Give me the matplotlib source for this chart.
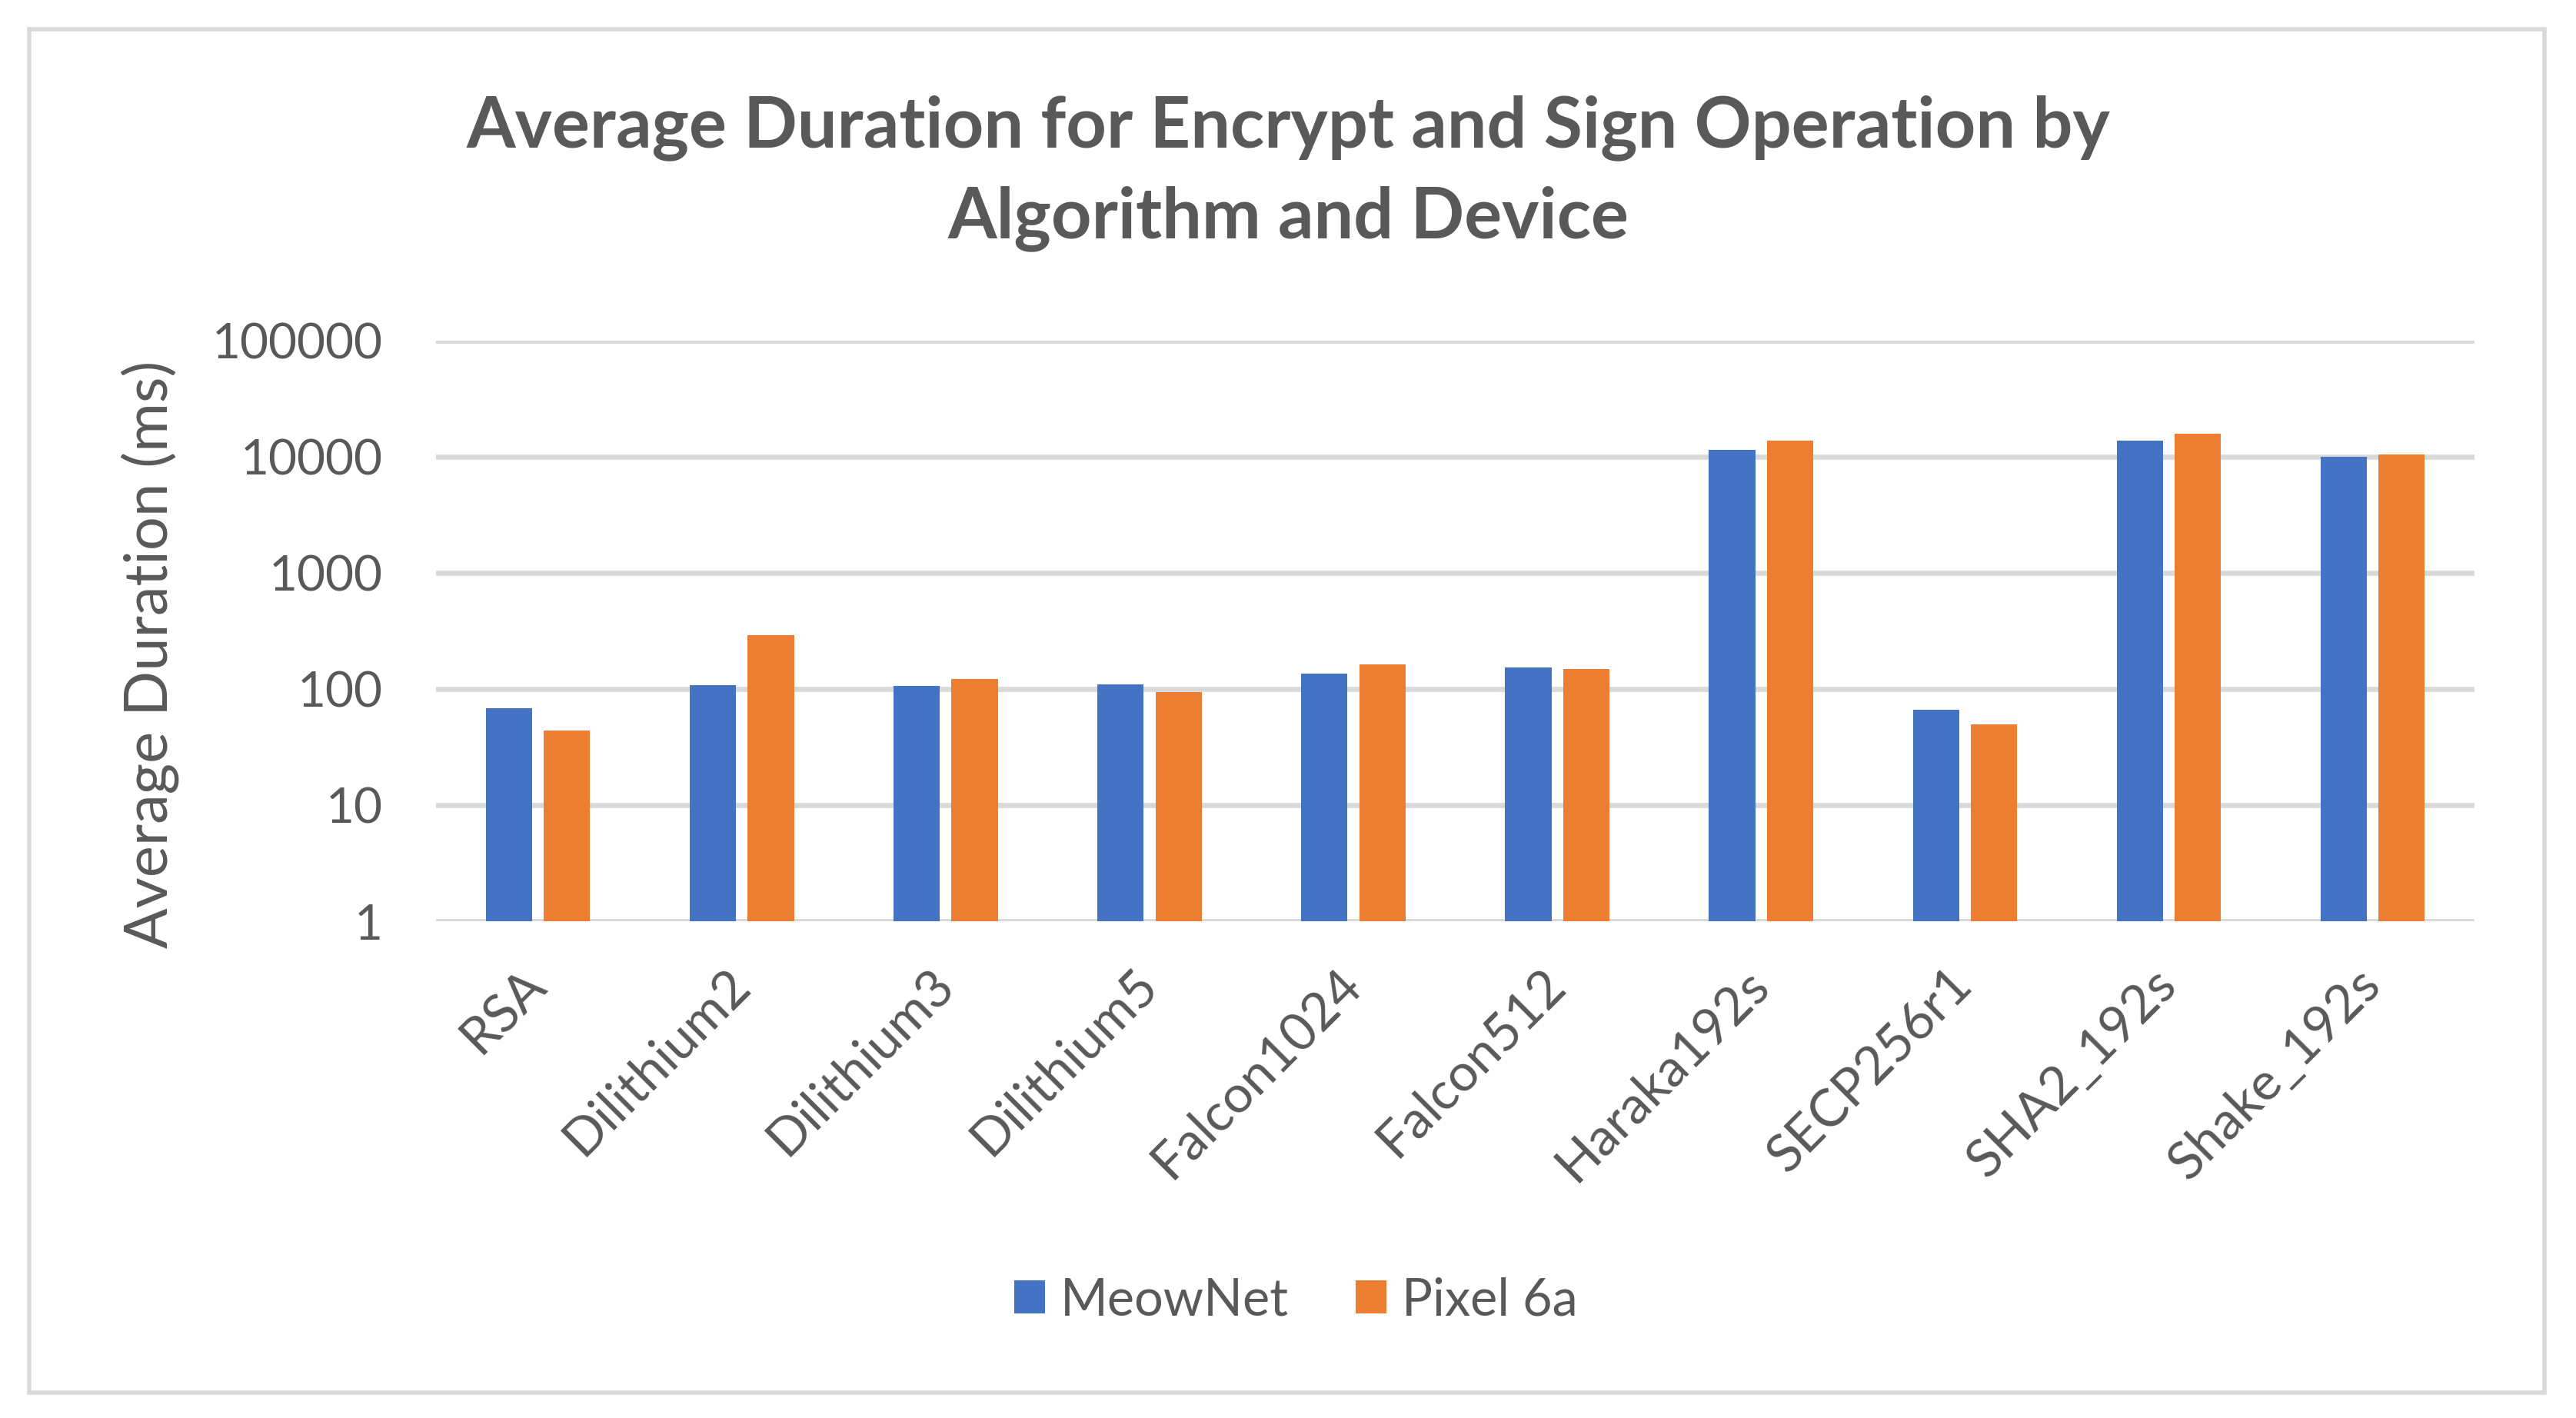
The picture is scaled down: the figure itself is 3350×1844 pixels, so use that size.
import numpy as np
import matplotlib.pyplot as plt
from matplotlib.patches import Rectangle

algorithms = ["RSA", "Dilithium2", "Dilithium3", "Dilithium5", "Falcon1024",
              "Falcon512", "Haraka192s", "SECP256r1", "SHA2_192s", "Shake_192s"]
meownet = [68, 108, 107, 110, 136, 154, 11500, 66, 13800, 10000]
pixel6a = [44, 290, 122, 94, 163, 149, 13800, 49.5, 15900, 10500]
yticks = [1, 10, 100, 1000, 10000, 100000]

blue = "#4472C4"
orange = "#ED7D31"
grid = "#D9D9D9"
txt = "#595959"

plt.rcParams['font.family'] = ['Lato', 'DejaVu Sans']

fig = plt.figure(figsize=(16.75, 9.22), dpi=200)
ax = fig.add_axes([0.1693, 0.3503, 0.7913, 0.4095])

x = np.arange(len(algorithms))
w = 0.227
off = 0.142
ax.bar(x - off, meownet, w, bottom=0, color=blue, label="MeowNet", zorder=3)
ax.bar(x + off, pixel6a, w, bottom=0, color=orange, label="Pixel 6a", zorder=3)

ax.set_yscale('log')
ax.set_ylim(1, 100000)
ax.set_xlim(-0.5, len(algorithms) - 0.5)
ax.set_yticks(yticks)
ax.set_yticklabels([str(v) for v in yticks])
ax.minorticks_off()
ax.tick_params(axis='y', length=0, pad=25, labelsize=23, labelcolor=txt)
ax.set_xticks(x)
ax.set_xticklabels(algorithms, rotation=45, ha='right', va='center',
                   rotation_mode='anchor')
ax.tick_params(axis='x', length=0, pad=26, labelsize=24.5, labelcolor=txt)

ax.grid(axis='y', color=grid, linewidth=2.4, zorder=0)
for s in ax.spines.values():
    s.set_visible(False)

fig.text(0.5, 1 - 166 / 1844, "Average Duration for Encrypt and Sign Operation by",
         ha='center', va='center', fontsize=33, fontweight='bold', color=txt)
fig.text(0.5, 1 - 284 / 1844, "Algorithm and Device",
         ha='center', va='center', fontsize=33, fontweight='bold', color=txt)
fig.text(0.0582, 0.5385, "Average Duration (ms)", rotation=90,
         ha='center', va='center', fontsize=28, color=txt)

fig.legend(loc='center', bbox_to_anchor=(0.503, 1 - 1691 / 1844), ncol=2,
           frameon=False, fontsize=24, labelcolor=txt, handlelength=0.6,
           handleheight=0.6, handletextpad=0.3, columnspacing=1.3)

fig.patches.append(Rectangle((0.0113, 0.0179), 0.9765, 0.9615,
                             transform=fig.transFigure, fill=False,
                             edgecolor=grid, linewidth=2))

fig.savefig("out.png", dpi=200)
